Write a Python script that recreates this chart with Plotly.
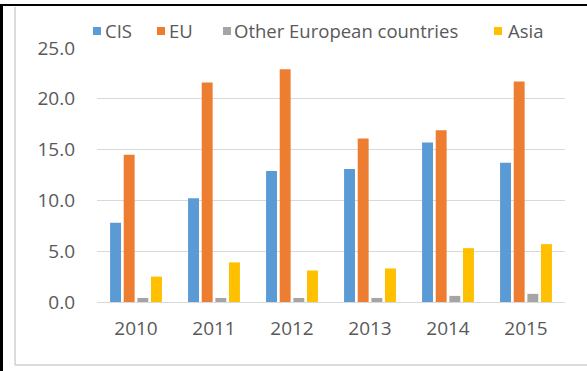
import plotly.graph_objects as go

# Data
years = ["2010", "2011", "2012", "2013", "2014", "2015"]
cis = [7.8, 10.2, 12.9, 13.1, 15.7, 13.7]
eu = [14.5, 21.6, 22.9, 16.1, 16.9, 21.7]
other_europe = [0.4, 0.4, 0.4, 0.4, 0.6, 0.8]
asia = [2.5, 3.9, 3.1, 3.3, 5.3, 5.7]

series_names = ["CIS", "EU", "Other European countries", "Asia"]
series_values = [cis, eu, other_europe, asia]
series_colors = ["#5B9BD5", "#ED7D31", "#A5A5A5", "#FFC000"]
y_ticks = [0, 5, 10, 15, 20, 25]

W, H = 587, 371
PL, PR, PT, PB = 97, 565, 48, 302  # plot area in pixels
TEXT = "#595959"
FONT = "Open Sans"


def px(x):
    return (x - PL) / (PR - PL)


def py(y):
    return (PB - y) / (PB - PT)


fig = go.Figure()
for name, vals, col in zip(series_names, series_values, series_colors):
    fig.add_trace(go.Bar(x=years, y=vals, name=name, marker_color=col,
                         marker_line_width=0, showlegend=False))

shapes = []
annotations = []

# Legend: small square swatch + label for each series
legend_items = [(93, 103), (157, 167), (223, 232), (494, 506)]
for (sx, tx), name, col in zip(legend_items, series_names, series_colors):
    shapes.append(dict(type="rect", xref="paper", yref="paper",
                       x0=px(sx), x1=px(sx + 8), y0=py(35), y1=py(27),
                       fillcolor=col, line_width=0, layer="above"))
    annotations.append(dict(x=px(tx), y=py(31), xref="paper", yref="paper",
                            text=name, showarrow=False, xanchor="left",
                            yanchor="middle",
                            font=dict(family=FONT, size=18.5, color=TEXT)))

# Chart frame (gray) and outer border (black)
shapes += [
    dict(type="line", xref="paper", yref="paper", x0=px(15), x1=px(15),
         y0=py(7), y1=py(365), line=dict(color="#D0D0D0", width=1.5)),
    dict(type="line", xref="paper", yref="paper", x0=px(15), x1=px(587),
         y0=py(365), y1=py(365), line=dict(color="#D0D0D0", width=1.5)),
    dict(type="line", xref="paper", yref="paper", x0=px(0), x1=px(587),
         y0=py(5), y1=py(5), line=dict(color="#000000", width=2)),
    dict(type="line", xref="paper", yref="paper", x0=px(1.5), x1=px(1.5),
         y0=py(5), y1=py(371), line=dict(color="#000000", width=3)),
]

fig.update_layout(
    width=W, height=H,
    margin=dict(l=PL, r=W - PR, t=PT, b=H - PB, pad=0),
    paper_bgcolor="white", plot_bgcolor="white",
    barmode="group", bargap=0.3, bargroupgap=0.2,
    shapes=shapes, annotations=annotations,
    showlegend=False,
)
fig.update_xaxes(showgrid=False, zeroline=False, showline=False,
                 tickfont=dict(family=FONT, size=19, color=TEXT),
                 ticks="", ticklabelstandoff=13)
fig.update_yaxes(range=[0, 25], tickvals=y_ticks, tickformat=".1f",
                 showgrid=True, gridcolor="#D9D9D9", gridwidth=1,
                 zeroline=True, zerolinecolor="#D9D9D9", zerolinewidth=1,
                 showline=False, ticks="",
                 tickfont=dict(family=FONT, size=19, color=TEXT),
                 ticklabelstandoff=21)

fig.write_html("out.html")
